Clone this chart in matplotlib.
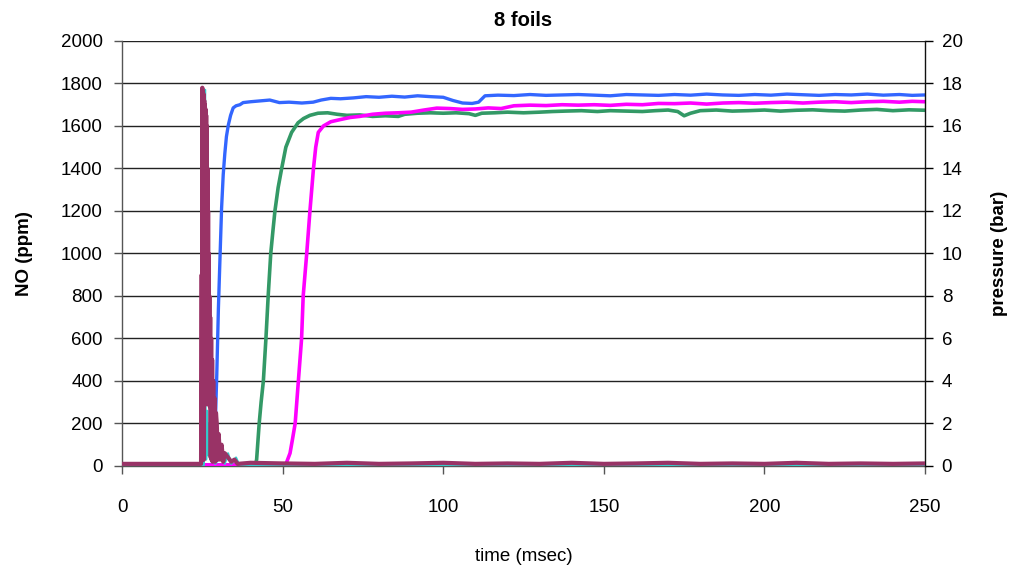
import matplotlib
matplotlib.use("Agg")
import matplotlib.pyplot as plt

plt.rcParams['font.family'] = ['Liberation Sans', 'DejaVu Sans']

# NO concentration (ppm) for the three runs
blue_t = [0, 28.0, 28.6, 29.0, 29.5, 30.0, 30.5, 31.0, 31.5, 32.0, 32.5, 33.1, 33.8, 34.6,
          35.5, 36.7, 37.7, 40, 43, 46, 49, 52, 56, 59.5, 62, 65, 68, 72, 76, 80, 84, 88,
          92, 96, 100, 103, 106, 109, 111, 113, 117, 122, 127, 132, 137, 142, 147, 152,
          157, 162, 167, 172, 177, 182, 187, 192, 197, 202, 207, 212, 217, 222, 227, 232,
          237, 242, 246, 250]
blue_no = [5, 5, 40, 180, 430, 740, 980, 1215, 1370, 1470, 1550, 1605, 1650, 1685,
           1695, 1700, 1710, 1714, 1718, 1722, 1710, 1712, 1708, 1712, 1722, 1730, 1728,
           1732, 1738, 1735, 1740, 1736, 1742, 1738, 1735, 1720, 1708, 1706, 1712, 1742,
           1745, 1743, 1748, 1744, 1746, 1748, 1745, 1742, 1748, 1746, 1744, 1748, 1745,
           1750, 1746, 1744, 1748, 1745, 1750, 1747, 1744, 1748, 1746, 1750, 1745, 1748,
           1744, 1746]

green_t = [0, 41.5, 41.9, 42.7, 43.3, 44.0, 44.8, 45.5, 46.3, 47.0, 47.6, 48.6, 49.7, 51,
           52.8, 54.8, 56.5, 58.5, 61, 64, 67, 70, 74, 78, 82, 86, 88, 92, 96, 100, 104,
           108, 110, 112, 116, 120, 125, 130, 134, 138, 143, 148, 152, 157, 162, 166, 170,
           173, 175, 177, 180, 185, 190, 195, 200, 205, 210, 215, 220, 225, 230, 235, 240,
           245, 250]
green_no = [5, 5, 30, 200, 300, 400, 600, 800, 1000, 1110, 1200, 1310, 1400, 1500,
            1570, 1615, 1635, 1650, 1660, 1662, 1655, 1650, 1652, 1645, 1648, 1645, 1655,
            1660, 1662, 1660, 1662, 1658, 1650, 1660, 1662, 1665, 1662, 1665, 1668, 1670,
            1672, 1668, 1672, 1670, 1668, 1672, 1675, 1668, 1648, 1660, 1672, 1675, 1670,
            1672, 1675, 1670, 1674, 1676, 1672, 1670, 1675, 1678, 1672, 1676, 1674]

magenta_t = [0, 51, 51.3, 52.3, 53.0, 53.9, 54.9, 55.9, 56.4, 57.5, 58.5, 59.6, 60.3,
             61.1, 62.7, 65, 67.9, 71, 74, 78, 82, 86, 90, 94, 98, 102, 106, 110, 114,
             118, 122, 127, 132, 137, 142, 147, 152, 157, 162, 167, 172, 177, 182, 187,
             192, 197, 202, 207, 212, 217, 222, 227, 232, 237, 242, 246, 250]
magenta_no = [5, 5, 20, 60, 120, 200, 400, 600, 800, 1000, 1200, 1400, 1500, 1570,
              1600, 1620, 1630, 1640, 1645, 1655, 1660, 1662, 1665, 1675, 1684, 1682,
              1678, 1680, 1685, 1682, 1695, 1698, 1696, 1700, 1698, 1700, 1697, 1702,
              1700, 1706, 1705, 1708, 1703, 1708, 1710, 1707, 1710, 1712, 1708, 1712,
              1714, 1710, 1714, 1716, 1712, 1716, 1714]

# Pressure traces (bar)
cyan_t = [0, 25.5, 25.7, 25.9, 26.0, 26.2, 26.5, 26.8, 27.1, 27.4, 27.7, 28.0, 28.5,
          29.0, 31.0, 32.0, 33.0, 34.0, 35.5, 36.5, 250]
cyan_p = [0.05, 0.05, 17.7, 17.7, 3.0, 0.3, 2.6, 0.5, 2.0, 0.3, 1.2, 0.2, 0.6,
          0.1, 0.5, 0.1, 0.6, 0.1, 0.4, 0.05, 0.05]

purple_t = [0, 24.6, 24.8, 24.9, 25.0, 25.1, 25.2, 25.3, 25.4, 25.5, 25.6, 25.7, 25.8,
            25.9, 26.0, 26.1, 26.2, 26.3, 26.4, 26.5, 26.6, 26.7, 26.8, 26.9, 27.0,
            27.1, 27.2, 27.3, 27.45, 27.6, 27.75, 27.9, 28.05, 28.2, 28.4, 28.6, 28.8,
            29.0, 29.25, 29.5, 29.8, 30.1, 30.5, 31.0, 31.5, 32.0, 33.0, 34.0, 35.0,
            36.0, 40, 50, 60, 70, 80, 90, 100, 110, 120, 130, 140, 150, 160, 170, 180,
            190, 200, 210, 220, 230, 240, 250]
purple_p = [0.1, 0.1, 9.0, 0.3, 17.8, 0.3, 17.6, 0.4, 17.5, 0.3, 17.2, 3.2, 17.0,
            3.5, 16.8, 2.9, 16.5, 3.6, 16.0, 3.0, 14.0, 3.4, 12.0, 3.1, 10.0, 3.5,
            8.0, 2.8, 7.0, 0.4, 6.0, 0.3, 5.0, 0.2, 4.0, 0.3, 3.2, 0.2, 2.5, 2.0, 0.3,
            1.5, 0.3, 1.0, 0.2, 0.6, 0.4, 0.2, 0.3, 0.1, 0.15, 0.12, 0.1, 0.15, 0.1,
            0.12, 0.15, 0.1, 0.12, 0.1, 0.15, 0.1, 0.12, 0.15, 0.1, 0.12, 0.1, 0.15,
            0.1, 0.12, 0.1, 0.12]

x_ticks = [0, 50, 100, 150, 200, 250]
no_ticks = list(range(0, 2001, 200))
p_ticks = list(range(0, 21, 2))

fig = plt.figure(figsize=(10.11, 5.77), dpi=100)
ax = fig.add_axes([0.1207, 0.1924, 0.7943, 0.7366])

ax.plot(blue_t, blue_no, color='#3366FF', lw=2.4, zorder=3)
ax.plot(green_t, green_no, color='#339966', lw=2.6, zorder=3)
ax.plot(magenta_t, magenta_no, color='#FF00FF', lw=2.6, zorder=3)

ax.set_xlim(0, 250)
ax.set_ylim(0, 2000)
ax.set_xticks(x_ticks)
ax.set_yticks(no_ticks)
ax.yaxis.grid(True, color='#222222', lw=1.0)
ax.set_axisbelow(True)
for side in ('top', 'right'):
    ax.spines[side].set_visible(False)
for side in ('left', 'bottom'):
    ax.spines[side].set_color('#555555')
    ax.spines[side].set_linewidth(1.0)
ax.tick_params(axis='x', direction='out', length=6, width=1, pad=18, labelsize=13.5,
               color='#555555')
ax.tick_params(axis='y', direction='out', length=6, width=1, pad=8, labelsize=13.5,
               color='#555555')
ax.set_ylabel('NO (ppm)', fontsize=13.5, fontweight='bold', labelpad=20)
ax.set_xlabel('time (msec)', fontsize=13.5, labelpad=23)
ax.set_title('8 foils', fontsize=14.5, fontweight='bold', pad=11)

ax2 = ax.twinx()
ax2.plot(cyan_t, cyan_p, color='#33CCCC', lw=1.5, zorder=2)
ax2.plot(purple_t, purple_p, color='#993366', lw=3.0, zorder=3)
ax2.set_ylim(0, 20)
ax2.set_yticks(p_ticks)
for side in ('top', 'left', 'bottom'):
    ax2.spines[side].set_visible(False)
ax2.spines['right'].set_color('#111111')
ax2.spines['right'].set_linewidth(1.0)
ax2.tick_params(axis='y', direction='out', length=6, width=1, pad=6, labelsize=13.5)
ax2.set_ylabel('pressure (bar)', fontsize=13.5, fontweight='bold', labelpad=20)

fig.savefig('out.png', dpi=100)
